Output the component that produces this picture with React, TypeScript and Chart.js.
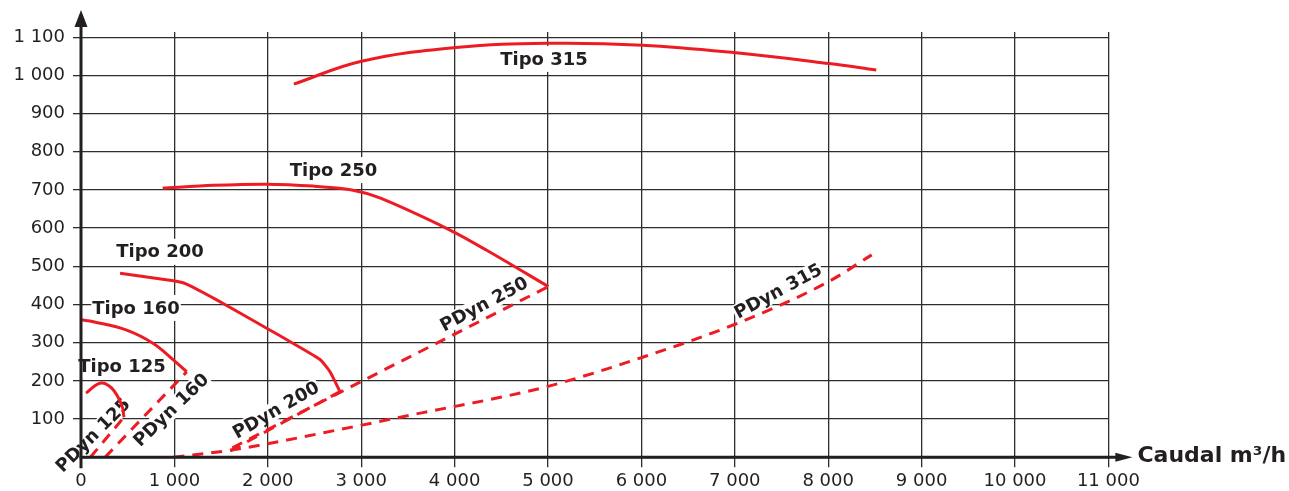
import React, { useEffect, useRef } from 'react';
import { Chart, registerables } from 'chart.js';

Chart.register(...registerables);

// ---- axis ticks ----
const xTickLabels = ['0', '1 000', '2 000', '3 000', '4 000', '5 000', '6 000', '7 000', '8 000', '9 000', '10 000', '11 000'];
const yTickLabels = ['', '100', '200', '300', '400', '500', '600', '700', '800', '900', '1 000', '1 100'];
const xStep = 1000;
const yStep = 100;
const xMax = 11000;
const yMax = 1113.5;

// ---- pump curves (Caudal m3/h vs pressure) ----
const tipo125X = [54, 203, 329, 436, 460];
const tipo125Y = [168, 194, 181, 137, 105];

const tipo160X = [0, 132, 489, 774, 988, 1132];
const tipo160Y = [360, 355, 333, 298, 255, 224];

const tipo200X = [418, 988, 1124, 1453, 1988, 2273, 2559, 2666, 2773];
const tipo200Y = [482, 462, 454, 412, 338, 298, 256, 224, 172];

const tipo250X = [875, 1417, 1988, 2487, 2900, 3200, 3951, 4344, 5004];
const tipo250Y = [705, 712, 715, 710, 700, 679, 595, 542, 447];

const tipo315X = [2279, 3004, 4014, 5015, 6011, 7013, 8009, 8515];
const tipo315Y = [977, 1037, 1073, 1084, 1079, 1059, 1031, 1014];

// ---- dynamic pressure curves ----
const pdyn125X = [100, 460];
const pdyn125Y = [0, 105];

const pdyn160X = [257, 1132];
const pdyn160Y = [0, 224];

const pdyn200X = [1600, 2773];
const pdyn200Y = [17, 172];

const pdyn250X = [1620, 2773, 5004];
const pdyn250Y = [25, 170, 447];

const pdyn315X = [990, 1610, 2900, 3660, 4490, 5020, 6013, 7009, 8005, 8466];
const pdyn315Y = [0, 19, 79, 117, 157, 187, 262, 349, 460, 530];

// ---- curve labels ----
const tipoLabels = ['Tipo 125', 'Tipo 160', 'Tipo 200', 'Tipo 250', 'Tipo 315'];
const tipoLabelX = [439, 589, 846, 2703, 4957];
const tipoLabelY = [237, 391, 538, 752, 1043];

const pdynLabels = ['PDyn 125', 'PDyn 160', 'PDyn 200', 'PDyn 250', 'PDyn 315'];
const pdynLabelX = [128, 964, 2088, 4315, 7463];
const pdynLabelY = [58, 124, 124, 401, 435];
const pdynLabelAngle = [45, 44, 30, 28, 28.4];

const axisTitle = 'Caudal m³/h';

const RED = '#ed1c24';
const INK = '#231f20';
const GRID = '#2e2e2e';

function pts(xs: number[], ys: number[]) {
  return xs.map((x, i) => ({ x, y: ys[i] }));
}

const solid = (label: string, xs: number[], ys: number[], tension: number) => ({
  label,
  data: pts(xs, ys),
  borderColor: RED,
  borderWidth: 3,
  pointRadius: 0,
  fill: false,
  tension,
  borderCapStyle: 'butt' as const,
});

const dashed = (label: string, xs: number[], ys: number[]) => ({
  label,
  data: pts(xs, ys),
  borderColor: RED,
  borderWidth: 3,
  borderDash: [11, 8],
  pointRadius: 0,
  fill: false,
  cubicInterpolationMode: 'monotone' as const,
  borderCapStyle: 'butt' as const,
});

const annotatePlugin = {
  id: 'annotate',
  beforeDatasetsDraw(chart: any) {
    const { ctx } = chart;
    const xs = chart.scales.x;
    const ys = chart.scales.y;
    ctx.save();
    ctx.font = 'bold 18px "DejaVu Sans"';
    ctx.textAlign = 'center';
    ctx.textBaseline = 'middle';
    tipoLabels.forEach((t, i) => {
      const px = xs.getPixelForValue(tipoLabelX[i]);
      const py = ys.getPixelForValue(tipoLabelY[i]);
      const w = ctx.measureText(t).width;
      ctx.fillStyle = '#ffffff';
      ctx.fillRect(px - w / 2 - 1, py - 13, w + 2, 26);
      ctx.fillStyle = INK;
      ctx.fillText(t, px, py + 1);
    });
    pdynLabels.forEach((t, i) => {
      const px = xs.getPixelForValue(pdynLabelX[i]);
      const py = ys.getPixelForValue(pdynLabelY[i]);
      const w = ctx.measureText(t).width;
      ctx.save();
      ctx.translate(px, py);
      ctx.rotate((-pdynLabelAngle[i] * Math.PI) / 180);
      ctx.fillStyle = '#ffffff';
      ctx.fillRect(-w / 2 - 1, -9, w + 2, 18);
      ctx.fillStyle = INK;
      ctx.fillText(t, 0, 1);
      ctx.restore();
    });
    ctx.restore();
  },
  afterDraw(chart: any) {
    const { ctx } = chart;
    const xs = chart.scales.x;
    const ys = chart.scales.y;
    const x0 = xs.getPixelForValue(0);
    const y0 = ys.getPixelForValue(0);
    const xEnd = xs.right + 24;
    ctx.save();
    ctx.strokeStyle = INK;
    ctx.fillStyle = INK;
    ctx.lineWidth = 3;
    // y axis
    ctx.beginPath();
    ctx.moveTo(x0, y0 + 11);
    ctx.lineTo(x0, 26);
    ctx.stroke();
    ctx.beginPath();
    ctx.moveTo(x0, 10);
    ctx.lineTo(x0 - 6.5, 27);
    ctx.lineTo(x0 + 6.5, 27);
    ctx.closePath();
    ctx.fill();
    // x axis
    ctx.beginPath();
    ctx.moveTo(x0 - 1.5, y0);
    ctx.lineTo(xEnd - 16, y0);
    ctx.stroke();
    ctx.beginPath();
    ctx.moveTo(xEnd, y0);
    ctx.lineTo(xEnd - 17, y0 - 4.5);
    ctx.lineTo(xEnd - 17, y0 + 4.5);
    ctx.closePath();
    ctx.fill();
    // axis title
    ctx.font = 'bold 22px "DejaVu Sans"';
    ctx.textAlign = 'left';
    ctx.textBaseline = 'alphabetic';
    ctx.fillText(axisTitle, xEnd + 5, y0 + 5);
    ctx.restore();
  },
};

export default function App() {
  const ref = useRef<HTMLCanvasElement | null>(null);

  useEffect(() => {
    document.body.style.margin = '0';
    const canvas = ref.current;
    if (!canvas) return;
    const chart = new Chart(canvas, {
      type: 'line',
      data: {
        datasets: [
          solid('Tipo 125', tipo125X, tipo125Y, 0.35),
          solid('Tipo 160', tipo160X, tipo160Y, 0.4),
          solid('Tipo 200', tipo200X, tipo200Y, 0.15),
          solid('Tipo 250', tipo250X, tipo250Y, 0.3),
          solid('Tipo 315', tipo315X, tipo315Y, 0.4),
          dashed('PDyn 125', pdyn125X, pdyn125Y),
          dashed('PDyn 160', pdyn160X, pdyn160Y),
          dashed('PDyn 200', pdyn200X, pdyn200Y),
          dashed('PDyn 250', pdyn250X, pdyn250Y),
          dashed('PDyn 315', pdyn315X, pdyn315Y),
        ] as any,
      },
      options: {
        animation: false,
        responsive: false,
        devicePixelRatio: 1,
        layout: { padding: { top: 32, right: 180.6, bottom: 0, left: 0 } },
        plugins: { legend: { display: false }, tooltip: { enabled: false } },
        scales: {
          x: {
            type: 'linear',
            min: 0,
            max: xMax,
            ticks: {
              stepSize: xStep,
              autoSkip: false,
              maxRotation: 0,
              padding: 3,
              color: INK,
              font: { family: '"DejaVu Sans"', size: 18 },
              callback: (v: any) => xTickLabels[Math.round(Number(v) / xStep)] ?? '',
            },
            grid: { color: GRID, lineWidth: 1.3, tickLength: 10, drawTicks: true },
            border: { display: false },
            afterFit: (s: any) => {
              s.height = 491 - 457.3;
            },
          },
          y: {
            type: 'linear',
            min: 0,
            max: yMax,
            ticks: {
              stepSize: yStep,
              includeBounds: false,
              padding: 8,
              color: INK,
              font: { family: '"DejaVu Sans"', size: 18 },
              callback: (v: any) => yTickLabels[Math.round(Number(v) / yStep)] ?? '',
            },
            grid: { color: GRID, lineWidth: 1.3, tickLength: 8, drawTicks: true },
            border: { display: false },
            afterFit: (s: any) => {
              s.width = 81;
            },
          },
        },
      } as any,
      plugins: [annotatePlugin],
    });
    return () => chart.destroy();
  }, []);

  return (
    <div style={{ position: 'absolute', left: 0, top: 0, width: 1289, height: 491, background: '#fff' }}>
      <canvas ref={ref} width={1289} height={491} style={{ display: 'block' }} />
    </div>
  );
}
